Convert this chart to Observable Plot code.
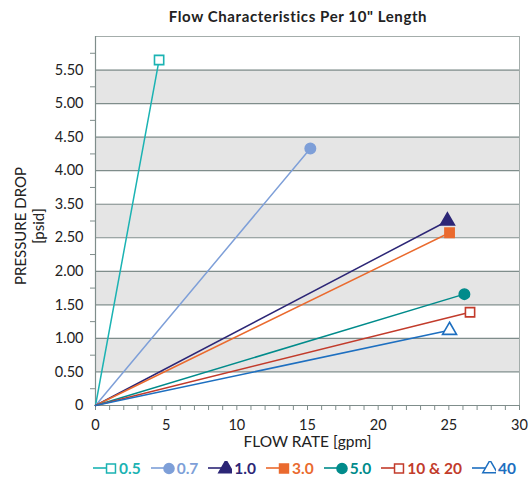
<!DOCTYPE html>
<html><head><meta charset="utf-8">
<script src="https://cdn.jsdelivr.net/npm/d3@7"></script>
<script src="https://cdn.jsdelivr.net/npm/@observablehq/plot@0.6"></script>
<style>
body{margin:0;background:#fff;font-family:Lato,"Open Sans",sans-serif;color:#222;}
#wrap{position:relative;width:529px;height:477px;overflow:hidden;}
#title{position:absolute;top:7px;left:0;width:596px;text-align:center;font-weight:bold;font-size:15px;letter-spacing:0.6px;}
#chart{position:absolute;top:30px;left:0;}
.ytitle{position:absolute;transform:translate(-50%,-50%) rotate(-90deg);white-space:nowrap;font-size:15px;}
#legend{position:absolute;top:459px;left:93px;display:flex;gap:10px;align-items:center;font-weight:bold;font-size:15.5px;}
#legend .item{display:flex;align-items:center;}
#legend svg{display:block;}
</style></head>
<body><div id="wrap">
<div id="title">Flow Characteristics Per 10" Length</div>
<div id="chart"></div>
<div class="ytitle" style="left:20px;top:226px;">PRESSURE DROP</div>
<div class="ytitle" style="left:38px;top:226px;">[psid]</div>
<div id="legend"></div>
</div>
<script>
// Series (label-space values as printed on the axis)
const seriesNames = ["0.5", "0.7", "1.0", "3.0", "5.0", "10 & 20", "40"];
const endFlow = [4.5, 15.2, 24.9, 25.05, 26.1, 26.5, 25.05];
const endPressure = [5.65, 4.33, 3.0, 2.65, 1.66, 1.39, 1.12];
const seriesColors = ["#1bb3b3", "#7e9fd8", "#2c2676", "#ea6a2e", "#008b8b", "#c23b2b", "#1d6fc0"];
const seriesSymbols = ["square", "circle", "triangle", "square", "circle", "square", "triangle"];
const seriesFilled = [false, true, true, true, true, false, false];

// Axis ticks / labels
const xTickValues = [0, 5, 10, 15, 20, 25, 30];
const xMinorTicks = [0,1,2,3,4,5,6,7,8,9,10,11,12,13,14,15,16,17,18,19,20,21,22,23,24,25,26,27,28,29,30];
const yTickValues = [0, 0.5, 1, 1.5, 2, 2.5, 3.5, 4, 4.5, 5, 5.5];
const yTickLabels = ["0", "0.50", "1.00", "1.50", "2.00", "2.50", "3.50", "4.00", "4.50", "5.00", "5.50"];
const yMinorTicks = [0.25, 0.75, 1.25, 1.75, 2.25, 3, 3.75, 4.25, 4.75, 5.25, 5.75];
const bandStarts = [0.5, 1.5, 2.5, 4.0, 5.0];
const bandEnds = [1.0, 2.0, 3.5, 4.5, 5.5];
const xTitle = "FLOW RATE [gpm]";

const W = 529, H = 428, mT = 6, mB = 53, mL = 95, mR = 10;
const plotBottom = H - mB, plotTop = mT;
const unit = (plotBottom - plotTop) / 11; // one gridline interval
const yRange = [plotBottom, plotBottom - 5 * unit, plotBottom - 6 * unit, plotTop];

const lineRows = [];
seriesNames.forEach((s, i) => {
  lineRows.push({series: s, flow: 0, p: 0});
  lineRows.push({series: s, flow: endFlow[i], p: endPressure[i]});
});
const endRows = seriesNames.map((s, i) => ({series: s, flow: endFlow[i], p: endPressure[i], color: seriesColors[i], fill: seriesFilled[i] ? seriesColors[i] : "white"}));
const bands = bandStarts.map((b, i) => ({y1: b, y2: bandEnds[i]}));
const labelMap = new Map(yTickValues.map((v, i) => [v, yTickLabels[i]]));
const gridColor = "#7f8d8b";

const chart = Plot.plot({
  width: W, height: H, marginTop: mT, marginBottom: mB, marginLeft: mL, marginRight: mR,
  style: {fontFamily: "Lato, 'Open Sans', sans-serif", fontSize: "14px", color: "#222", background: "white"},
  x: {domain: [0, 30], axis: null},
  y: {type: "linear", domain: [0, 2.5, 3.5, 6], range: yRange, axis: null},
  color: {domain: seriesNames, range: seriesColors},
  symbol: {domain: seriesNames, range: seriesSymbols},
  marks: [
    Plot.rect(bands, {x1: 0, x2: 30, y1: "y1", y2: "y2", fill: "#e5e5e5"}),
    Plot.ruleY(yTickValues, {stroke: gridColor, strokeWidth: 1.2}),
    Plot.ruleY([6], {stroke: "#a4adab", strokeWidth: 1}),
    Plot.ruleX([30], {stroke: "#a4adab", strokeWidth: 1}),
    Plot.ruleX([0], {stroke: gridColor, strokeWidth: 1.2}),
    Plot.axisY(yMinorTicks, {tickSize: 5, tickFormat: () => "", stroke: gridColor, label: null}),
    Plot.axisY(yTickValues, {tickSize: 0, tickPadding: 12, tickFormat: d => labelMap.get(d), fontSize: 14.5, label: null}),
    Plot.axisX(xMinorTicks, {tickSize: 5, tickFormat: () => "", stroke: gridColor, label: null}),
    Plot.axisX(xTickValues, {tickSize: 0, tickPadding: 14, fontSize: 14.5, label: null}),
    Plot.text([xTitle], {frameAnchor: "bottom", dy: 41, fontSize: 15.5, fill: "#222"}),
    Plot.line(lineRows, {x: "flow", y: "p", z: "series", stroke: "series", strokeWidth: 1.5}),
    Plot.dot(endRows, {x: "flow", y: "p", symbol: "series", stroke: "color", fill: "fill", r: 5.2, strokeWidth: 1.6})
  ]
});
document.getElementById("chart").appendChild(chart);

// legend
const legend = d3.select("#legend");
const symPath = {
  square: d3.symbol(d3.symbolSquare, 80)(),
  circle: d3.symbol(d3.symbolCircle, 80)(),
  triangle: d3.symbol(d3.symbolTriangle, 90)()
};
seriesNames.forEach((s, i) => {
  const item = legend.append("div").attr("class", "item");
  const svg = item.append("svg").attr("width", 24).attr("height", 14);
  svg.append("line").attr("x1", 0).attr("x2", 16).attr("y1", 7).attr("y2", 7).attr("stroke", seriesColors[i]).attr("stroke-width", 1.6);
  svg.append("path").attr("d", symPath[seriesSymbols[i]]).attr("transform", "translate(18,7.5)")
    .attr("fill", seriesFilled[i] ? seriesColors[i] : "white").attr("stroke", seriesColors[i]).attr("stroke-width", 1.5);
  item.append("span").text(s).style("color", seriesColors[i]).style("margin-left", "2px");
});
</script>
</body></html>
